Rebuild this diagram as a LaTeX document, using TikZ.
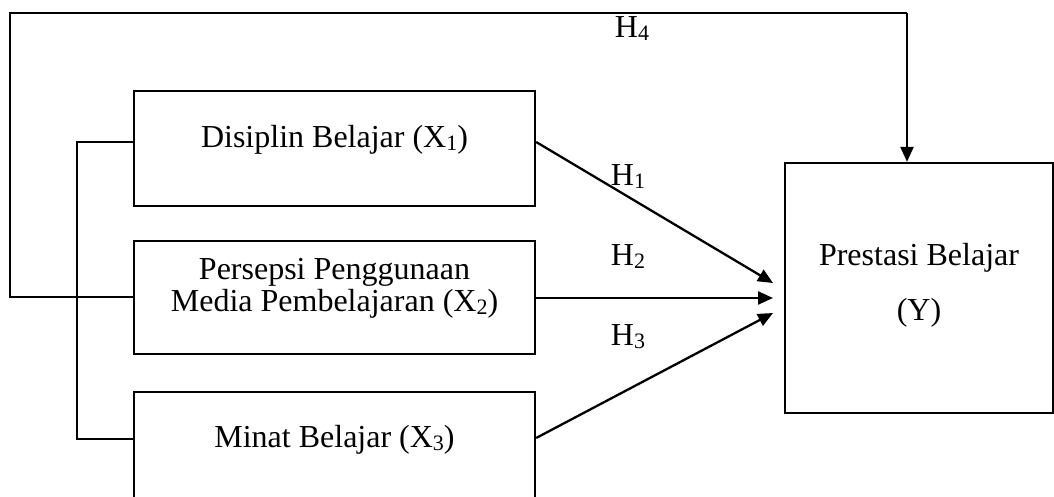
\documentclass[tikz,border=0pt]{standalone}
\usepackage{fontspec}
\setmainfont{Liberation Serif}
\usetikzlibrary{arrows.meta,calc}
\newcommand\mysub[1]{\raisebox{-3pt}{\fontsize{22}{22}\selectfont #1}}
\begin{document}
\begin{tikzpicture}[x=1pt,y=-1pt,
  box/.style={draw,line width=2.3pt,inner sep=0pt},
  lbl/.style={font=\fontsize{32}{36}\selectfont,inner sep=0pt},
  conn/.style={line width=2.3pt},
  arr/.style={line width=2.3pt,-{Triangle[length=15pt,width=13pt]}}]
\useasboundingbox (0,0) rectangle (1054,497);
% boxes
\node[box,minimum width=401pt,minimum height=115pt] (x1) at (334.5,148.5) {};
\node[box,minimum width=401pt,minimum height=113pt] (x2) at (334.5,297.5) {};
\node[box,minimum width=401pt,minimum height=110pt] (x3) at (334.5,447) {};
\node[box,minimum width=268pt,minimum height=250pt] (y) at (919,288) {};
% texts
\node[lbl] (t1) at (334.5,140) {Disiplin Belajar (X\mysub{1})};
\node[lbl] (t2a) at (334.5,272) {Persepsi Penggunaan};
\node[lbl] (t2b) at (334.5,304) {Media Pembelajaran (X\mysub{2})};
\node[lbl] (t3) at (334.5,440) {Minat Belajar (X\mysub{3})};
\node[lbl] (ty1) at (919,258) {Prestasi Belajar};
\node[lbl] (ty2) at (919,313) {(Y)};
\node[lbl] (h4) at (632,29) {H\mysub{4}};
\node[lbl] (h1) at (628,177) {H\mysub{1}};
\node[lbl] (h2) at (628,257) {H\mysub{2}};
\node[lbl] (h3) at (628,337) {H\mysub{3}};
% coordinates
\coordinate (bx) at (77,297);
\coordinate (s1) at (x1.east |- 0,142);
\coordinate (s2) at (x2.east |- 0,298);
\coordinate (s3) at (x3.east |- 0,438);
\coordinate (e1) at (773,283);
\coordinate (e2) at (773,298);
\coordinate (e3) at (773,313);
\coordinate (c4a) at (10,297);
\coordinate (c4b) at (10,13);
\coordinate (c4c) at (907,13);
% bracket
\draw[conn] (x1.west |- 0,142) -- (77,142) -- (77,439) -- (x3.west |- 0,439);
\draw[conn] (bx) -- (x2.west |- 0,297);
% H4 line
\draw[conn,line join=miter] (bx) -- (c4a) -- (c4b) -- (c4c);
\draw[arr] (c4c) -- (c4c |- y.north);
% arrows
\draw[arr] (s1) -- (e1);
\draw[arr] (s2) -- (e2);
\draw[arr] (s3) -- (e3);
\end{tikzpicture}
\end{document}
